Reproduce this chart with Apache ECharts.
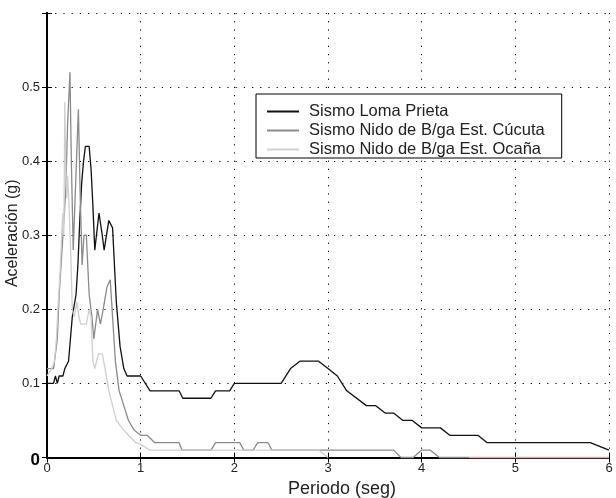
<!DOCTYPE html>
<html>
<head>
<meta charset="utf-8">
<script src="https://cdn.jsdelivr.net/npm/echarts@6/dist/echarts.min.js"></script>
<style>
html,body{margin:0;padding:0;background:#fff;}
#chart{width:616px;height:498px;}
</style>
</head>
<body>
<div id="chart"></div>
<script>
// ---- data ----
var seriesNames = ['Sismo Loma Prieta', 'Sismo Nido de B/ga Est. Cúcuta', 'Sismo Nido de B/ga Est. Ocaña'];

var lomaT = [0,0.07,0.09,0.11,0.13,0.17,0.19,0.21,0.23,0.25,0.27,0.31,0.33,0.35,0.37,0.39,0.41,0.45,0.47,0.49,0.51,0.53,0.555,0.59,0.61,0.66,0.70,0.74,0.78,0.82,0.855,1.0,1.1,1.41,1.45,1.75,1.8,1.95,2.0,2.5,2.6,2.7,2.9,3.0,3.1,3.2,3.41,3.51,3.61,3.70,3.80,3.90,4.0,4.2,4.3,4.6,4.7,5.8,6.0];
var lomaA = [0.10,0.10,0.11,0.10,0.11,0.11,0.12,0.12,0.13,0.16,0.19,0.22,0.26,0.32,0.37,0.40,0.42,0.42,0.39,0.34,0.28,0.28,0.33,0.30,0.28,0.32,0.31,0.21,0.15,0.12,0.11,0.11,0.09,0.09,0.08,0.08,0.09,0.09,0.10,0.10,0.12,0.13,0.13,0.12,0.11,0.09,0.07,0.07,0.06,0.06,0.05,0.05,0.04,0.04,0.03,0.03,0.02,0.02,0.01];

var cucutaT = [0,0.07,0.09,0.11,0.13,0.15,0.17,0.20,0.22,0.245,0.26,0.28,0.30,0.335,0.355,0.375,0.395,0.42,0.45,0.48,0.50,0.54,0.57,0.60,0.64,0.675,0.70,0.73,0.77,0.82,0.87,0.93,1.0,1.07,1.15,1.41,1.44,1.75,1.80,2.06,2.10,2.20,2.25,2.36,2.40,3.70,3.78,3.91,4.0,4.09,4.19,4.5];
var cucutaA = [0.12,0.12,0.14,0.16,0.22,0.26,0.30,0.36,0.45,0.52,0.40,0.28,0.35,0.47,0.35,0.26,0.30,0.30,0.22,0.19,0.16,0.20,0.18,0.20,0.23,0.24,0.19,0.13,0.09,0.07,0.05,0.037,0.03,0.03,0.02,0.02,0.01,0.01,0.02,0.02,0.01,0.01,0.02,0.02,0.01,0.01,0,0,0.01,0.01,0,0];

var ocanaT = [0,0.05,0.08,0.10,0.12,0.14,0.16,0.17,0.18,0.19,0.20,0.21,0.22,0.235,0.25,0.27,0.29,0.32,0.34,0.36,0.42,0.45,0.47,0.49,0.51,0.55,0.59,0.62,0.66,0.70,0.74,0.80,0.87,0.95,1.01,1.1,2.9,3.0];
var ocanaA = [0.11,0.12,0.13,0.16,0.21,0.25,0.31,0.33,0.30,0.48,0.39,0.35,0.38,0.34,0.29,0.20,0.19,0.21,0.19,0.18,0.18,0.20,0.19,0.13,0.12,0.14,0.14,0.12,0.09,0.07,0.05,0.04,0.03,0.02,0.017,0.01,0.01,0];

// faint reddish trace along the baseline at the right end
var baseT = [4.5, 6.0];
var baseA = [0, 0];

var xTicks = [0,1,2,3,4,5,6];
var yTicks = [0,0.1,0.2,0.3,0.4,0.5,0.6];

function zip(t, a){ return t.map(function(v,i){ return [v, a[i]]; }); }

var chart = echarts.init(document.getElementById('chart'), null, {renderer:'canvas'});
var font = '"Liberation Sans", Arial, Helvetica, sans-serif';
var dots = [1.2, 7];

var option = {
  backgroundColor: '#fff',
  animation: false,
  textStyle: {fontFamily: font},
  grid: {left: 47, right: 7, top: 13, bottom: 40.5, containLabel: false, outerBoundsMode: 'none'},
  legend: {
    data: seriesNames,
    orient: 'vertical',
    left: 256, top: 94,
    itemWidth: 32, itemHeight: 14, itemGap: 2,
    padding: [9, 17, 0, 10],
    backgroundColor: '#fff',
    borderColor: '#000', borderWidth: 1, borderRadius: 0,
    itemStyle: {opacity: 0, borderWidth: 0},
    textStyle: {fontFamily: font, fontSize: 16.5, color: '#222', padding: [0,0,0,5]},
    selectedMode: false
  },
  xAxis: [{
    type: 'value', min: xTicks[0], max: xTicks[xTicks.length-1], interval: 1,
    name: 'Periodo (seg)', nameLocation: 'middle', nameGap: 23,
    nameTextStyle: {fontFamily: font, fontSize: 18, color: '#222', padding: [0,0,0,28]},
    axisLine: {show: true, lineStyle: {color: '#000', width: 2}},
    axisTick: {show: true, inside: true, length: 5, lineStyle: {color: '#000'}},
    axisLabel: {fontFamily: font, fontSize: 13, color: '#222', margin: 4},
    splitLine: {show: true, lineStyle: {color: '#000', type: dots, width: 1}}
  },{
    type: 'value', position: 'top', min: 0, max: 6, interval: 1,
    axisLine: {show: true, lineStyle: {color: '#000', width: 2}},
    axisTick: {show: true, inside: true, length: 5, lineStyle: {color: '#000'}},
    axisLabel: {show: false}, splitLine: {show: false}
  }],
  yAxis: [{
    type: 'value', min: yTicks[0], max: yTicks[yTicks.length-1], interval: 0.1,
    name: 'Aceleración (g)', nameLocation: 'middle', nameGap: 26, nameMoveOverlap: false,
    nameTextStyle: {fontFamily: font, fontSize: 16, color: '#222', padding: [0,0,0,4]},
    axisLine: {show: true, lineStyle: {color: '#000', width: 2}},
    axisTick: {show: true, inside: true, length: 5, lineStyle: {color: '#000'}},
    axisLabel: {
      fontFamily: font, fontSize: 13, color: '#222', margin: 7,
      formatter: function(v){
        if (Math.abs(v) < 1e-9) return '{z|0}';
        if (Math.abs(v - 0.6) < 1e-9) return '';
        return v.toFixed(1);
      },
      rich: {z: {fontFamily: font, fontSize: 17, fontWeight: 'bold', color: '#000', padding: [6,0,0,0]}}
    },
    splitLine: {show: true, lineStyle: {color: '#000', type: dots, width: 1}}
  },{
    type: 'value', position: 'right', min: 0, max: 0.6, interval: 0.1,
    axisLine: {show: true, lineStyle: {color: '#000', width: 2}},
    axisTick: {show: true, inside: true, length: 5, lineStyle: {color: '#000'}},
    axisLabel: {show: false}, splitLine: {show: false}
  }],
  series: [{
    name: seriesNames[0], type: 'line', data: zip(lomaT, lomaA),
    symbol: 'none', clip: false, z: 5,
    lineStyle: {color: '#111', width: 1.3}, itemStyle: {color: '#111'}
  },{
    name: seriesNames[1], type: 'line', data: zip(cucutaT, cucutaA),
    symbol: 'none', clip: false, z: 6,
    lineStyle: {color: '#8a8a8a', width: 1.3}, itemStyle: {color: '#8a8a8a'}
  },{
    name: seriesNames[2], type: 'line', data: zip(ocanaT, ocanaA),
    symbol: 'none', clip: false, z: 7,
    lineStyle: {color: '#cfcfcf', width: 1.3}, itemStyle: {color: '#cfcfcf'}
  },{
    name: 'base', type: 'line', data: zip(baseT, baseA),
    symbol: 'none', clip: false, z: 7, silent: true,
    lineStyle: {color: '#e0a8a8', width: 1.5}, itemStyle: {color: '#e0a8a8'}
  }]
};
chart.setOption(option);
</script>
</body>
</html>
